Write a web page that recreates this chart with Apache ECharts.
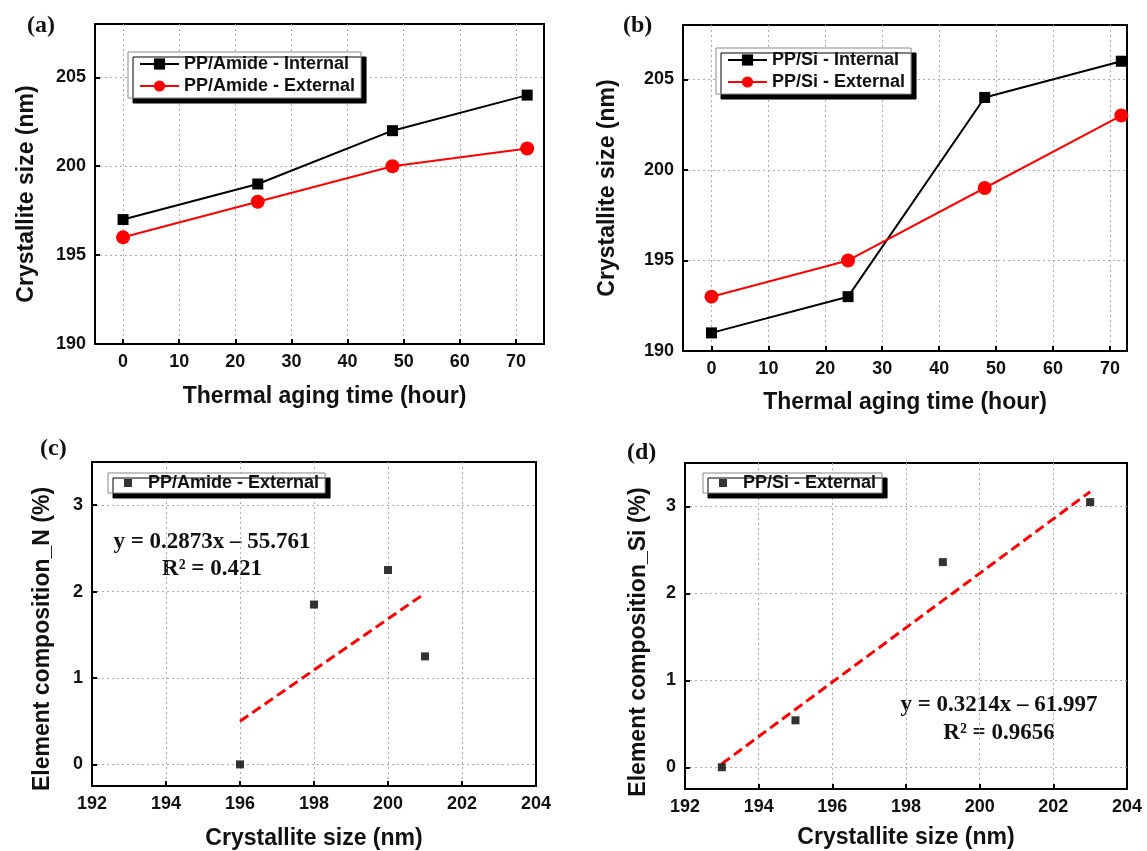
<!DOCTYPE html>
<html><head><meta charset="utf-8">
<script src="https://cdn.jsdelivr.net/npm/echarts@6/dist/echarts.min.js"></script>
<style>html,body{margin:0;padding:0;background:#fff}#c{width:1147px;height:851px}</style>
</head><body><div id="c"></div>
<script>
// ---- data ----
const agingHours = [0, 24, 48, 72];
const amideInternal = [197, 199, 202, 204];
const amideExternal = [196, 198, 200, 201];
const siInternal = [191, 193, 204, 206];
const siExternal = [193, 195, 199, 203];
const amideNComp = [0, 1.85, 2.25, 1.25];   // vs amideExternal
const siComp = [0, 0.54, 2.36, 3.05];       // vs siExternal
const amideFitX = [196, 201];
const amideFitY = [0.5, 1.98];
const siFitX = [193, 203];
const siFitY = [0.04, 3.17];
const hourTicks = [0, 10, 20, 30, 40, 50, 60, 70];
const sizeTicks = [190, 195, 200, 205];
const compTicks = [0, 1, 2, 3];
const crystTicks = [192, 194, 196, 198, 200, 202, 204];
const crystInnerTicks = [194, 196, 198, 200, 202];
const eqC = ['y = 0.2873x \u2013 55.761', 'R\u00b2 = 0.421'];
const eqD = ['y = 0.3214x \u2013 61.997', 'R\u00b2 = 0.9656'];

const SANS = '"Liberation Sans", Arial, sans-serif';
const SERIF = '"Liberation Serif", "Times New Roman", serif';
const RED = '#ff0000';
const pairs = (xs, ys) => xs.map((x, i) => [x, ys[i]]);

function axis(gridIndex, opts) {
  return Object.assign({
    type: 'value', gridIndex,
    nameLocation: 'middle',
    nameTextStyle: Object.assign({ fontFamily: SANS, fontWeight: 'bold', fontSize: 23, color: '#111' }, opts.nameStyle || {}),
    axisLine: { show: true, onZero: false, lineStyle: { color: '#000', width: 2 } },
    axisTick: { show: true, inside: true, length: 5, lineStyle: { color: '#000', width: 2 }, customValues: opts.ticks },
    axisLabel: { fontFamily: SANS, fontWeight: 'bold', fontSize: 18, color: '#111', margin: 9, customValues: opts.labels || opts.ticks },
    splitLine: { show: true, lineStyle: { color: '#aaa', type: [2, 3], width: 1 } }
  }, opts.extra);
}

const grids = [
  { left: 95, top: 24, width: 449, height: 320 },
  { left: 683, top: 25, width: 444, height: 326 },
  { left: 92, top: 462, width: 444, height: 327 },
  { left: 685, top: 463, width: 442, height: 326 }
].map(g => Object.assign({ show: true, borderColor: '#000', borderWidth: 2, backgroundColor: 'transparent' }, g));

const xAxes = [
  axis(0, { ticks: hourTicks, nameStyle: { padding: [0, 0, 0, 10] }, extra: { min: -5, max: 75, interval: 5, name: 'Thermal aging time (hour)', nameGap: 41 } }),
  axis(1, { ticks: hourTicks, extra: { min: -5, max: 73, interval: 1, name: 'Thermal aging time (hour)', nameGap: 40 } }),
  axis(2, { ticks: crystInnerTicks, labels: crystTicks, extra: { min: 192, max: 204, interval: 2, name: 'Crystallite size (nm)', nameGap: 41 } }),
  axis(3, { ticks: crystInnerTicks, labels: crystTicks, extra: { min: 192, max: 204, interval: 2, name: 'Crystallite size (nm)', nameGap: 37 } })
];
const yAxes = [
  axis(0, { ticks: sizeTicks, nameStyle: { padding: [0, 20, 0, 0] }, extra: { min: 190, max: 208, interval: 5, name: 'Crystallite size (nm)', nameGap: 57 } }),
  axis(1, { ticks: sizeTicks, extra: { min: 190, max: 208, interval: 5, name: 'Crystallite size (nm)', nameGap: 64 } }),
  axis(2, { ticks: compTicks, nameStyle: { padding: [0, 30, 0, 0] }, extra: { min: -0.25, max: 3.5, interval: 0.25, name: 'Element composition_N (%)', nameGap: 38 } }),
  axis(3, { ticks: compTicks, nameStyle: { padding: [0, 32, 0, 0] }, extra: { min: -0.25, max: 3.5, interval: 0.25, name: 'Element composition_Si (%)', nameGap: 35 } })
];

function lineSeries(name, idx, ys, color, symbol, size) {
  return {
    type: 'line', name, xAxisIndex: idx, yAxisIndex: idx,
    data: pairs(agingHours, ys),
    symbol, symbolSize: size,
    lineStyle: { color, width: 2 },
    itemStyle: { color },
    z: 3
  };
}

const series = [
  lineSeries('PP/Amide - Internal', 0, amideInternal, '#000', 'rect', 11),
  lineSeries('PP/Amide - External', 0, amideExternal, RED, 'circle', 14),
  lineSeries('PP/Si - Internal', 1, siInternal, '#000', 'rect', 11),
  lineSeries('PP/Si - External', 1, siExternal, RED, 'circle', 14),
  { type: 'line', name: 'fitC', xAxisIndex: 2, yAxisIndex: 2, data: pairs(amideFitX, amideFitY), symbol: 'none',
    lineStyle: { color: RED, width: 3, type: [10, 5] }, z: 2 },
  { type: 'scatter', name: 'PP/Amide - External (c)', xAxisIndex: 2, yAxisIndex: 2, data: pairs(amideExternal, amideNComp),
    symbol: 'rect', symbolSize: 8, itemStyle: { color: '#000' }, z: 3 },
  { type: 'line', name: 'fitD', xAxisIndex: 3, yAxisIndex: 3, data: pairs(siFitX, siFitY), symbol: 'none',
    lineStyle: { color: RED, width: 3, type: [10, 5] }, z: 2 },
  { type: 'scatter', name: 'PP/Si - External (d)', xAxisIndex: 3, yAxisIndex: 3, data: pairs(siExternal, siComp),
    symbol: 'rect', symbolSize: 8, itemStyle: { color: '#000' }, z: 3 }
];

const legendText = { fontFamily: SANS, fontWeight: 'bold', fontSize: 18, color: '#111' };
function legend(pos, names, extra) {
  return Object.assign({
    orient: 'vertical', left: pos[0], top: pos[1], data: names,
    backgroundColor: '#fff', borderColor: '#888', borderWidth: 1,
    shadowColor: '#000', shadowBlur: 0, shadowOffsetX: 5, shadowOffsetY: 5,
    padding: [3, 6, 3, 11], itemGap: 4, itemWidth: 39, itemHeight: 14,
    selectedMode: false,
    formatter: n => n.replace(/ \((c|d)\)$/, ''),
    textStyle: legendText
  }, extra || {});
}
const scatterLegend = { itemWidth: 8, itemHeight: 8, padding: [1, 6, 1, 16], textStyle: Object.assign({}, legendText, { padding: [0, 0, 0, 11] }) };

const legends = [
  legend([128, 52], ['PP/Amide - Internal', 'PP/Amide - External']),
  legend([716, 48], ['PP/Si - Internal', 'PP/Si - External']),
  legend([108, 473], ['PP/Amide - External (c)'], scatterLegend),
  legend([703, 473], ['PP/Si - External (d)'], scatterLegend)
];

const serifBold = { fontFamily: SERIF, fontWeight: 'bold', fill: '#111' };
const txt = (x, y, text, size, align) => ({ type: 'text', x, y, style: Object.assign({ text, fontSize: size, align: align || 'left', verticalAlign: 'middle' }, serifBold) });
const graphic = [
  txt(27, 26, '(a)', 24), txt(623, 26, '(b)', 24),
  txt(40, 449, '(c)', 24), txt(627, 453, '(d)', 24),
  txt(212, 542, eqC[0], 23, 'center'), txt(212, 569, eqC[1], 23, 'center'),
  txt(999, 705, eqD[0], 23, 'center'), txt(999, 733, eqD[1], 23, 'center')
];

const chart = echarts.init(document.getElementById('c'), null, { renderer: 'canvas' });
chart.setOption({
  animation: false,
  backgroundColor: '#fff',
  grid: grids, xAxis: xAxes, yAxis: yAxes, series, legend: legends, graphic
});
</script></body></html>
